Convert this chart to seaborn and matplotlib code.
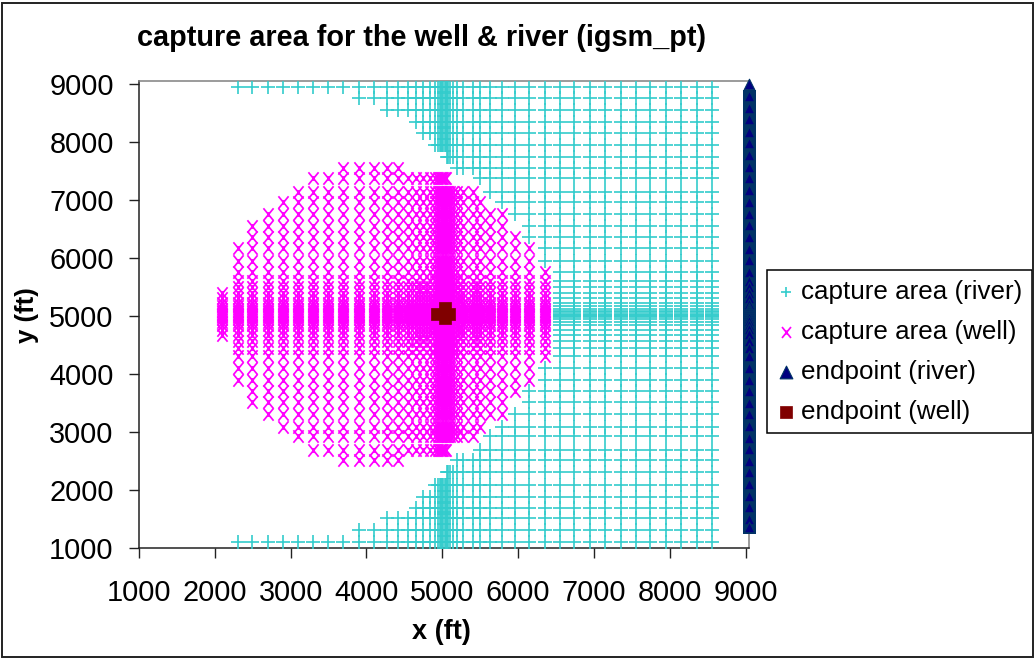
import numpy as np
import pandas as pd
import matplotlib
matplotlib.use("Agg")
import matplotlib.pyplot as plt
import seaborn as sns
from matplotlib.patches import Rectangle
from matplotlib.path import Path

sns.set_theme(style="white")
plt.rcParams['font.family'] = ['Liberation Sans', 'DejaVu Sans']
plt.rcParams['text.color'] = 'black'

# Grid columns, with the well capture extent for each (None = none)
x_cols = [2090, 2300, 2490, 2700, 2900, 3100, 3300, 3490, 3690, 3900, 4100, 4270, 4420, 4550,
          4660, 4750, 4840, 4905, 4940, 4970, 4985, 5000, 5015, 5030, 5045, 5060,
          5080, 5100, 5145, 5190, 5280, 5410, 5500, 5630, 5785, 5955, 6145, 6355, 6555,
          6740, 6950, 7150, 7360, 7553, 7742, 7955, 8146, 8355, 8552]
well_top = [5430, 6170, 6555, 6760, 6970, 7140, 7380, 7380, 7550, 7550, 7550, 7550, 7550, 7380,
            7380, 7380, 7380, 7380, 7380, 7380, 7380, 7380, 7380, 7380, 7380, 7140,
            7140, 7140, 7140, 7140, 7140, 7140, 6970, 6760, 6760, 6365, 6170, 5760, None,
            None, None, None, None, None, None, None, None, None, None]
well_bot = [4630, 3890, 3510, 3300, 3090, 2920, 2690, 2690, 2510, 2510, 2510, 2510, 2510, 2690,
            2690, 2690, 2690, 2690, 2690, 2690, 2690, 2690, 2690, 2690, 2690, 2920,
            2920, 2920, 2920, 2920, 2920, 2920, 3090, 3300, 3300, 3700, 3890, 4300, None,
            None, None, None, None, None, None, None, None, None, None]

# Grid rows, with the first column of river capture on each row
y_rows = [8953, 8750, 8550, 8350, 8150, 7950, 7740, 7550, 7380, 7140, 6970, 6760, 6555, 6365,
          6170, 5950, 5760, 5600, 5500, 5390, 5300, 5220, 5170, 5120, 5085, 5060, 5040, 5020,
          5000, 4975, 4940, 4890, 4840, 4760, 4670, 4570, 4450, 4300, 4100, 3890, 3700, 3510,
          3300, 3090, 2920, 2690, 2510, 2310, 2080, 1880, 1680, 1507, 1305, 1103]
river_from = [2300, 3900, 4270, 4660, 4750, 4905, 5060, 5190, 5500, 5630, 5785, 5955, 6145, 6145,
              6355, 6355, 6555, 6555, 6555, 6555, 6555, 6555, 6555, 6555, 6555, 6555, 6555, 6555,
              6555, 6555, 6555, 6555, 6555, 6555, 6555, 6555, 6555, 6555, 6355, 6355, 6145, 6145,
              5955, 5785, 5630, 5500, 5190, 5060, 4905, 4750, 4660, 4270, 3900, 2300]

river_y_end = [9000, 8790, 8580, 8390, 8180, 7980, 7780, 7570, 7370, 7170, 6960, 6760, 6560, 6360,
               6160, 5970, 5760, 5600, 5500, 5400, 5300, 5200, 5140, 5100, 5060, 5030, 5000, 4960,
               4910, 4850, 4770, 4680, 4570, 4450, 4300, 4100, 3900, 3700, 3500, 3300, 3100, 2900,
               2700, 2500, 2300, 2100, 1900, 1700, 1500, 1350]
well_x_end = [4925, 5083, 5030, 5030]
well_y_end = [5040, 5040, 5135, 4963]

tick_vals = [1000, 2000, 3000, 4000, 5000, 6000, 7000, 8000, 9000]

well_pts = [(x, y) for x, t, b in zip(x_cols, well_top, well_bot) if t is not None
            for y in y_rows if b <= y <= t]
well_set = set(well_pts)
river_pts = [(x, y) for y, s in zip(y_rows, river_from) for x in x_cols if x >= s
             and (x, y) not in well_set]
river = pd.DataFrame(river_pts, columns=["x", "y"])
well = pd.DataFrame(well_pts, columns=["x", "y"])
river_end = pd.DataFrame({"x": [9050] * len(river_y_end), "y": river_y_end})
well_end = pd.DataFrame({"x": well_x_end, "y": well_y_end})

# Excel-style star: an X with a short vertical stroke through the crossing
star = Path([(-.82, -1), (.82, 1), (-.82, 1), (.82, -1), (0, -.36), (0, .36)],
            [Path.MOVETO, Path.LINETO, Path.MOVETO, Path.LINETO, Path.MOVETO, Path.LINETO])

W, H = 1035, 659
fig = plt.figure(figsize=(W / 100, H / 100), dpi=100, facecolor="white")
ax = fig.add_axes([139 / W, 1 - 547.7 / H, 610.3 / W, 467 / H])

sns.scatterplot(data=river, x="x", y="y", ax=ax, marker="+", s=96, color="#33CCCC",
                linewidth=1.2, label="capture area (river)", zorder=3)
sns.scatterplot(data=well, x="x", y="y", ax=ax, marker=star, s=80, color="#FF00FF",
                edgecolor="#FF00FF", linewidth=1.25, label="capture area (well)", zorder=4)
sns.scatterplot(data=river_end.iloc[1:], x="x", y="y", ax=ax, marker="s", s=84, color="#003366",
                edgecolor="none", linewidth=0, zorder=5, clip_on=False)
sns.scatterplot(data=river_end, x="x", y="y", ax=ax, marker="^", s=58, color="#000080",
                edgecolor="#003366", linewidth=0.8, label="endpoint (river)", zorder=6, clip_on=False)
sns.scatterplot(data=well_end, x="x", y="y", ax=ax, marker="s", s=76, color="#800000",
                edgecolor="#800000", linewidth=0.5, label="endpoint (well)", zorder=7)

ax.set_xlim(1000, 9050)
ax.set_ylim(1000, 9057)
ax.set_xticks(tick_vals)
ax.set_yticks(tick_vals)
ax.tick_params(axis="both", which="major", direction="out", length=7.2, width=1.0, color="#222222",
               labelsize=20.8, labelcolor="black", bottom=True, left=True)
ax.tick_params(axis="x", pad=15)
ax.tick_params(axis="y", pad=11)
for side in ("left", "bottom"):
    ax.spines[side].set_color("#222222")
    ax.spines[side].set_linewidth(1.1)
for side in ("top", "right"):
    ax.spines[side].set_color("#808080")
    ax.spines[side].set_linewidth(1.1)
    ax.spines[side].set_visible(True)

ax.set_xlabel("")
ax.set_ylabel("")
fig.text(441 / W, 1 - 632 / H, "x (ft)", fontsize=19.5, fontweight="bold", ha="center", va="center")
fig.text(27 / W, 1 - 315 / H, "y (ft)", fontsize=18.5, fontweight="bold", rotation=90, ha="center", va="center")
fig.text(421.5 / W, 1 - 38 / H, "capture area for the well & river (igsm_pt)", fontsize=20.8,
         fontweight="bold", ha="center", va="center")

leg = ax.legend(loc="upper left", bbox_to_anchor=(767 / W, 1 - 270 / H), bbox_transform=fig.transFigure,
                fontsize=18.75, frameon=True, fancybox=False, edgecolor="black", framealpha=1,
                borderaxespad=0, borderpad=0.38, labelspacing=0.61, handletextpad=0.22, handlelength=0.7)
leg.get_frame().set_linewidth(1.1)
leg.set_zorder(20)
for handle, size in zip(leg.legend_handles, [48, 62, 84, 80]):
    handle.set_sizes([size])

fig.add_artist(Rectangle((2 / W, 2.5 / H), 1031 / W, 654 / H, transform=fig.transFigure,
                         fill=False, edgecolor="#222222", linewidth=1.4))
fig.savefig("out.png", dpi=100, facecolor="white")
